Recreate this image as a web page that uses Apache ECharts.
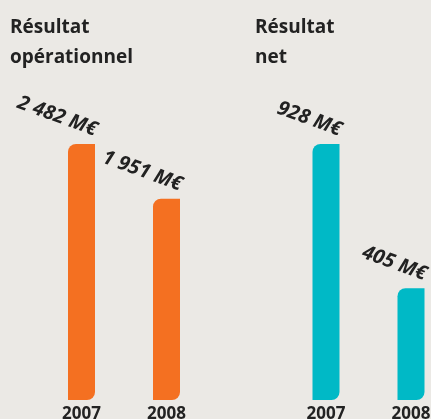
<!DOCTYPE html>
<html>
<head>
<meta charset="utf-8">
<script src="https://cdn.jsdelivr.net/npm/echarts@6/dist/echarts.min.js"></script>
<style>
  html, body { margin: 0; padding: 0; background: #ebe9e5; }
  #chart { width: 431px; height: 419px; }
</style>
</head>
<body>
<div id="chart"></div>
<script>
const years = ['2007', '2008'];
const operationnel = [2482, 1951];
const net = [928, 405];

function fmt(v) {
  // 2482 -> "2 482 M€"
  return String(v).replace(/\B(?=(\d{3})+(?!\d))/g, ' ') + ' M€';
}

const labelStyle = {
  show: true,
  position: 'top',
  align: 'right',
  verticalAlign: 'bottom',
  rotate: -20,
  offset: [11, -3],
  color: '#222',
  fontFamily: 'Open Sans',
  fontStyle: 'italic',
  fontWeight: 'bold',
  fontSize: 20,
  formatter: p => fmt(p.value)
};

const axisLabel = {
  color: '#222',
  fontFamily: 'Open Sans',
  fontWeight: 'bold',
  fontSize: 17,
  margin: 6
};

const titleStyle = { color: '#222', fontFamily: 'Open Sans', fontWeight: 'bold', fontSize: 19, lineHeight: 30 };

const chart = echarts.init(document.getElementById('chart'));
chart.setOption({
  backgroundColor: '#ebe9e5',
  animation: false,
  title: [
    { text: 'Résultat\nopérationnel', left: 5, top: 8, textStyle: titleStyle },
    { text: 'Résultat\nnet', left: 250, top: 8, textStyle: titleStyle }
  ],
  // boundaryGap false puts the two bars on the grid edges, 85px apart
  grid: [
    { left: 81.5, width: 85, top: 144, bottom: 19, outerBoundsMode: 'none' },
    { left: 326, width: 85, top: 144, bottom: 19, outerBoundsMode: 'none' }
  ],
  xAxis: [
    { type: 'category', gridIndex: 0, data: years, boundaryGap: false, axisLine: { show: false }, axisTick: { show: false }, axisLabel },
    { type: 'category', gridIndex: 1, data: years, boundaryGap: false, axisLine: { show: false }, axisTick: { show: false }, axisLabel }
  ],
  yAxis: [
    { type: 'value', gridIndex: 0, min: 0, max: 'dataMax', show: false, splitLine: { show: false } },
    { type: 'value', gridIndex: 1, min: 0, max: 'dataMax', show: false, splitLine: { show: false } }
  ],
  series: [
    {
      type: 'bar', xAxisIndex: 0, yAxisIndex: 0, data: operationnel,
      barWidth: 27,
      itemStyle: { color: '#f47021', borderRadius: [8, 0, 8, 0] },
      label: labelStyle
    },
    {
      type: 'bar', xAxisIndex: 1, yAxisIndex: 1, data: net,
      barWidth: 27,
      itemStyle: { color: '#00b9c6', borderRadius: [8, 0, 8, 0] },
      label: labelStyle
    }
  ]
});
</script>
</body>
</html>
